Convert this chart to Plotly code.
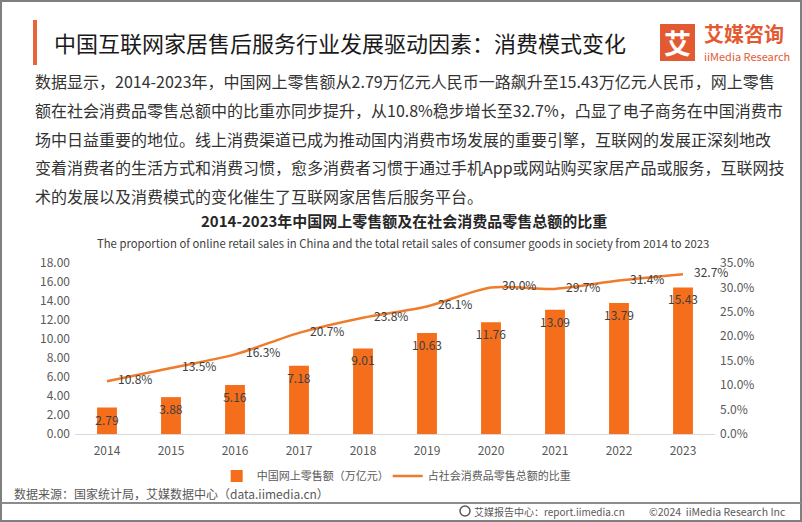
import plotly.graph_objects as go

years = ["2014", "2015", "2016", "2017", "2018", "2019", "2020", "2021", "2022", "2023"]
sales = [2.79, 3.88, 5.16, 7.18, 9.01, 10.63, 11.76, 13.09, 13.79, 15.43]
share = [0.108, 0.135, 0.163, 0.207, 0.238, 0.261, 0.300, 0.297, 0.314, 0.327]

page_title = "中国互联网家居售后服务行业发展驱动因素：消费模式变化"
paragraph = [
    "数据显示，2014-2023年，中国网上零售额从2.79万亿元人民币一路飙升至15.43万亿元人民币，网上零售",
    "额在社会消费品零售总额中的比重亦同步提升，从10.8%稳步增长至32.7%，凸显了电子商务在中国消费市",
    "场中日益重要的地位。线上消费渠道已成为推动国内消费市场发展的重要引擎，互联网的发展正深刻地改",
    "变着消费者的生活方式和消费习惯，愈多消费者习惯于通过手机App或网站购买家居产品或服务，互联网技",
    "术的发展以及消费模式的变化催生了互联网家居售后服务平台。",
]
chart_title = "2014-2023年中国网上零售额及在社会消费品零售总额的比重"
chart_sub = "The proportion of online retail sales in China and the total retail sales of consumer goods in society from 2014 to 2023"
bar_name = "中国网上零售额（万亿元）"
line_name = "占社会消费品零售总额的比重"
source = "数据来源：国家统计局，艾媒数据中心（data.iimedia.cn）"
footer_l = "艾媒报告中心：report.iimedia.cn"
footer_r = "©2024  iiMedia Research Inc"

W, H = 802, 522
L, R, T, B = 75, 87, 263, 88
PW, PH = W - L - R, H - T - B

def px(x):
    return (x - L) / PW

def py(y):
    return (H - B - y) / PH

CJK = "Noto Sans CJK SC"
ORANGE = "#F46E1B"
LINE_OR = "#F07B2A"
GRAY = "#595959"

fig = go.Figure()
fig.add_trace(go.Bar(
    x=years, y=sales, name=bar_name,
    marker=dict(color=ORANGE, line=dict(width=0)),
    text=sales, texttemplate="%{y:.2f}", textposition="inside",
    insidetextanchor="end", constraintext="none", textangle=0,
    textfont=dict(color="#404040", size=12, family=CJK),
    width=0.31, cliponaxis=False, legendwidth=126,
))
fig.add_trace(go.Scatter(
    x=years, y=share, name=line_name, yaxis="y2",
    mode="lines+markers+text", line=dict(color=LINE_OR, width=2.5, shape="spline", smoothing=0.8),
    marker=dict(size=16, color="rgba(0,0,0,0)", line=dict(width=0)),
    text=share, texttemplate="%{y:.1%}", textposition="middle right",
    textfont=dict(color="#404040", size=12, family=CJK), cliponaxis=False,
))

def note(x, y, text, size, color, family=CJK, xanchor="left"):
    return dict(x=px(x), y=py(y), xref="paper", yref="paper", text=text, showarrow=False,
                xanchor=xanchor, yanchor="middle", font=dict(family=family, size=size, color=color))

ann = []
ann.append(note(52, 42, page_title, 22, "#1a1a1a"))
for i, line in enumerate(paragraph):
    ann.append(note(33, 81 + 28.8 * i, line, 16, "#333333"))
ann.append(note(404, 220, "<b>" + chart_title + "</b>", 15, "#262626", xanchor="center"))
ann.append(note(403, 243, chart_sub, 11.3, "#404040", xanchor="center"))
ann.append(note(12, 493, source, 12, GRAY))
ann.append(note(472, 511, footer_l, 10, GRAY))
ann.append(note(788, 511, footer_r, 10.5, GRAY, xanchor="right"))
# logo
ann.append(note(677.5, 43, "<b>艾</b>", 27, "white", xanchor="center"))
ann.append(note(702, 33.5, "<b>艾媒咨询</b>", 20, "#E35A32"))
ann.append(note(702, 55.5, "iiMedia Research", 11, "#E35A32"))

shapes = []
shapes.append(dict(type="rect", xref="paper", yref="paper", x0=px(1), x1=px(801), y0=py(1), y1=py(521),
                   line=dict(color="#7F7F7F", width=2), layer="below"))
shapes.append(dict(type="line", xref="paper", yref="paper", x0=px(1), x1=px(801), y0=py(503), y1=py(503),
                   line=dict(color="#8C8C8C", width=2)))
shapes.append(dict(type="rect", xref="paper", yref="paper", x0=px(33), x1=px(37), y0=py(20), y1=py(65),
                   line=dict(width=0), fillcolor="#E8643C"))
shapes.append(dict(type="rect", xref="paper", yref="paper", x0=px(660), x1=px(695), y0=py(24), y1=py(61),
                   line=dict(width=0), fillcolor="#E35A32"))
shapes.append(dict(type="circle", xref="paper", yref="paper", x0=px(460), x1=px(470), y0=py(506), y1=py(516),
                   line=dict(color=GRAY, width=1.5)))

fig.update_layout(
    width=W, height=H, margin=dict(l=L, r=R, t=T, b=B, autoexpand=False),
    paper_bgcolor="white", plot_bgcolor="white",
    showlegend=True,
    legend=dict(orientation="h", xref="container", yref="container", x=0.494, y=1 - 476 / H,
                xanchor="center", yanchor="middle", font=dict(family=CJK, size=11, color=GRAY),
                itemwidth=30, traceorder="normal", bgcolor="rgba(0,0,0,0)"),
    xaxis=dict(type="category", range=[-0.5, 9.5], showgrid=False, showline=True, linecolor="#D9D9D9",
               linewidth=1, ticks="", tickfont=dict(family=CJK, size=12, color=GRAY), ticklabelstandoff=6),
    yaxis=dict(range=[0, 18], dtick=2, tickformat=".2f", showgrid=False, zeroline=False,
               tickfont=dict(family=CJK, size=12, color=GRAY), ticklabelstandoff=4),
    yaxis2=dict(range=[0, 0.35], dtick=0.05, tickformat=".1%", overlaying="y", side="right",
                showgrid=False, zeroline=False, tickfont=dict(family=CJK, size=12, color=GRAY),
                ticklabelstandoff=4),
    annotations=ann, shapes=shapes, bargap=0.69, hovermode=False,
)

fig.write_html("out.html", config={"displayModeBar": False},
               post_script="document.body.style.margin='0';document.body.style.overflow='hidden';")
